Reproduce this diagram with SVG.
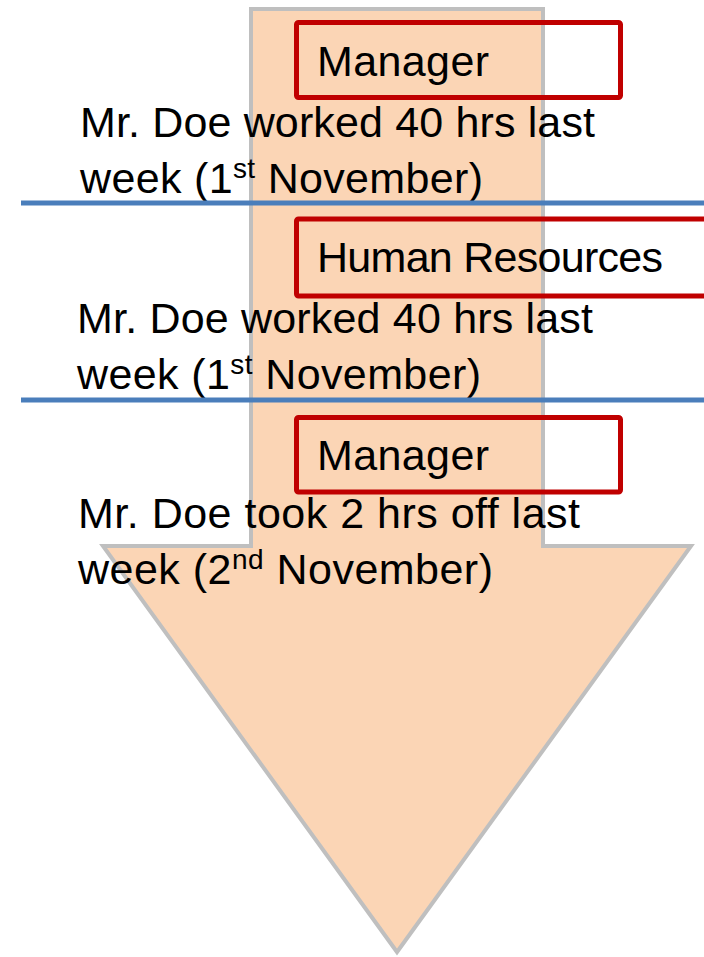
<svg xmlns="http://www.w3.org/2000/svg" width="704" height="957" viewBox="0 0 704 957">
  <style>
    .arrow { fill: #FBD5B5; stroke: #BFBFBF; stroke-width: 4; stroke-linejoin: miter; }
    .box { fill: none; stroke: #C00000; stroke-width: 5; }
    .sep { stroke: #4A7EBB; stroke-width: 5; }
    .t { font-family: "Liberation Sans", Arial, sans-serif; font-size: 43px; fill: #000000; }
    .sup { font-size: 28px; }
  </style>
  <rect width="704" height="957" fill="#FFFFFF"/>
  <g id="arrow">
    <polygon class="arrow" points="251,9 543,9 543,546 691,546 397,952 103,546 251,546"/>
  </g>
  <g id="step1">
    <text class="t" x="80" y="137" textLength="515">Mr. Doe worked 40 hrs last</text>
    <text class="t" x="80" y="193" textLength="403">week (1<tspan class="sup" dy="-15">st</tspan><tspan dy="15"> November)</tspan></text>
  </g>
  <g id="step2">
    <text class="t" x="77" y="333" textLength="516">Mr. Doe worked 40 hrs last</text>
    <text class="t" x="77" y="389" textLength="404">week (1<tspan class="sup" dy="-15">st</tspan><tspan dy="15"> November)</tspan></text>
  </g>
  <g id="step3">
    <text class="t" x="78" y="528" textLength="502">Mr. Doe took 2 hrs off last</text>
    <text class="t" x="78" y="584" textLength="415">week (2<tspan class="sup" dy="-15">nd</tspan><tspan dy="15"> November)</tspan></text>
  </g>
  <g id="separators">
    <line class="sep" x1="21" y1="203" x2="704" y2="203"/>
    <line class="sep" x1="21" y1="400" x2="704" y2="400"/>
  </g>
  <g id="role1">
    <rect class="box" x="296.5" y="22.5" width="324" height="75" rx="2"/>
    <text class="t" x="317" y="76" textLength="172">Manager</text>
  </g>
  <g id="role2">
    <rect class="box" x="296.5" y="219" width="430" height="77" rx="2"/>
    <text class="t" x="317" y="272" textLength="346">Human Resources</text>
  </g>
  <g id="role3">
    <rect class="box" x="296.5" y="417.5" width="324" height="74.5" rx="2"/>
    <text class="t" x="317" y="470" textLength="172">Manager</text>
  </g>
</svg>
